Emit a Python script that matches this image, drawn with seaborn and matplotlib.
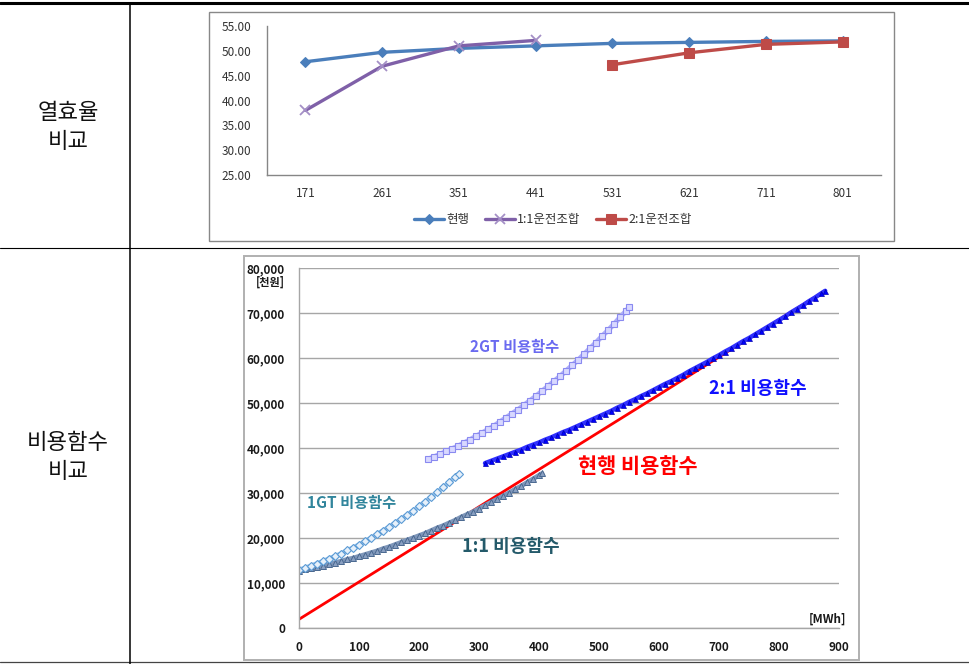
import matplotlib
matplotlib.use("Agg")
import matplotlib.pyplot as plt
from matplotlib.lines import Line2D
from matplotlib.patches import Rectangle
from matplotlib.ticker import FuncFormatter
import seaborn as sns

# ---- 열효율 비교 (상단) ----
load_cats = ["171", "261", "351", "441", "531", "621", "711", "801"]
eff_now = [47.8, 49.7, 50.5, 51.0, 51.5, 51.7, 51.9, 52.0]
eff_11 = [38.0, 46.9, 51.0, 52.1]          # 171 ~ 441
eff_21 = [47.2, 49.6, 51.3, 51.8]          # 531 ~ 801

# ---- 비용함수 비교 (하단): x [MWh], y [천원] ----
now_x = [0, 100, 200, 300, 400, 500, 600, 700, 800, 877]
now_y = [2000, 10300, 18600, 27000, 35300, 43600, 51900, 60300, 68600, 75000]

gt1_x = list(range(0, 261, 10)) + [266]
gt1_y = [13000, 13400, 13900, 14400, 14900, 15500, 16000, 16600, 17300, 17900,
         18600, 19300, 20100, 20900, 21700, 22500, 23400, 24300, 25200, 26100,
         27100, 28100, 29200, 30200, 31300, 32400, 33600, 34300]

c11_x = list(range(0, 401, 10)) + [405]
c11_y = [12800, 13100, 13300, 13600, 13900, 14200, 14600, 14900, 15300, 15600,
         16000, 16400, 16800, 17200, 17700, 18100, 18600, 19100, 19600, 20100,
         20600, 21100, 21700, 22300, 22800, 23400, 24000, 24700, 25300, 25900,
         26600, 27300, 28000, 28700, 29400, 30100, 30900, 31600, 32400, 33200,
         34000, 34400]

gt2_x = list(range(215, 546, 10)) + [550]
gt2_y = [37600, 38100, 38700, 39300, 39900, 40500, 41200, 41900, 42700, 43400,
         44200, 45000, 45900, 46800, 47700, 48600, 49600, 50600, 51600, 52700,
         53800, 54900, 56000, 57200, 58400, 59600, 60900, 62200, 63500, 64900,
         66200, 67600, 69100, 70500, 71300]

c21_x = list(range(310, 871, 10)) + [877]
c21_y = [36700, 37200, 37700, 38200, 38700, 39200, 39700, 40300, 40800, 41300,
         41900, 42400, 43000, 43600, 44100, 44700, 45300, 45900, 46500, 47100,
         47700, 48300, 49000, 49600, 50300, 50900, 51600, 52200, 52900, 53600,
         54300, 54900, 55600, 56300, 57100, 57800, 58500, 59200, 60000, 60700,
         61500, 62200, 63000, 63800, 64500, 65300, 66100, 66900, 67700, 68500,
         69300, 70200, 71000, 71800, 72700, 73500, 74400, 75000]

W, H = 970, 664


def fx(px):
    return px / W


def fy(py):
    return 1 - py / H


sns.set_style("white")
plt.rcParams["font.family"] = ["Noto Sans CJK KR", "DejaVu Sans"]

fig = plt.figure(figsize=(W / 100, H / 100), dpi=100)

# 표 테두리
fig.add_artist(Line2D([0, 1], [fy(3), fy(3)], color="black", lw=2.2))
fig.add_artist(Line2D([0, 1], [fy(248), fy(248)], color="black", lw=0.8))
fig.add_artist(Line2D([0, 1], [fy(662), fy(662)], color="#444444", lw=0.9))
fig.add_artist(Line2D([fx(130.5), fx(130.5)], [fy(3), fy(664)], color="black", lw=1.1))

fig.text(fx(68), fy(127), "열효율\n비교", ha="center", va="center",
         fontsize=16, linespacing=1.35, color="#111111")
fig.text(fx(68), fy(457), "비용함수\n비교", ha="center", va="center",
         fontsize=16, linespacing=1.35, color="#111111")

# 차트 틀
fig.add_artist(Rectangle((fx(209), fy(241)), (894 - 209) / W, (241 - 12) / H,
                         fill=False, edgecolor="#888888", lw=1))
fig.add_artist(Rectangle((fx(244), fy(660)), (859 - 244) / W, (660 - 256) / H,
                         fill=False, edgecolor="#b0b0b0", lw=1.4))

# ---- 상단 차트 ----
ax1 = fig.add_axes([fx(267), fy(175), 614 / W, 149 / H])
idx = list(range(len(load_cats)))
sns.lineplot(x=idx, y=eff_now, ax=ax1, color="#4a7ebb", lw=2.4, marker="D",
             markersize=5.5, markeredgecolor="#4a7ebb", label="현행")
sns.lineplot(x=idx[:4], y=eff_11, ax=ax1, color="#7f60a8", lw=2.4, marker="x",
             markersize=7, markeredgewidth=1.3, markeredgecolor="#a48fc6",
             label="1:1운전조합")
sns.lineplot(x=idx[4:], y=eff_21, ax=ax1, color="#be4b48", lw=2.4, marker="s",
             markersize=6.5, markeredgecolor="#be4b48", label="2:1운전조합")

ax1.set_xlim(-0.5, 7.5)
ax1.set_ylim(25, 55)
ax1.set_yticks([25, 30, 35, 40, 45, 50, 55])
ax1.yaxis.set_major_formatter(FuncFormatter(lambda v, p: f"{v:.2f}"))
ax1.set_xticks(idx)
ax1.set_xticklabels(load_cats)
for s in ["top", "right"]:
    ax1.spines[s].set_visible(False)
for s in ["left", "bottom"]:
    ax1.spines[s].set_color("#868686")
    ax1.spines[s].set_linewidth(1)
ax1.tick_params(axis="y", length=0, pad=11, labelsize=8.5, labelcolor="#333333")
ax1.tick_params(axis="x", length=0, pad=9, labelsize=8.5, labelcolor="#333333")
ax1.set_xlabel("")
ax1.set_ylabel("")

handles, labels = ax1.get_legend_handles_labels()
ax1.legend(handles, labels, loc="center", bbox_to_anchor=(fx(553), fy(220)),
           bbox_transform=fig.transFigure, ncol=3, frameon=False, fontsize=9,
           handlelength=2.4, handletextpad=0.2, columnspacing=1.2,
           labelcolor="#333333")

# ---- 하단 차트 ----
ax2 = fig.add_axes([fx(299), fy(628.3), 540 / W, 360 / H])
sns.lineplot(x=now_x, y=now_y, ax=ax2, color="#ff0000", lw=2.0, legend=False)
sns.lineplot(x=c21_x, y=c21_y, ax=ax2, color="#3030ff", lw=3.2, marker="^",
             markersize=3.6, markerfacecolor="#0000ff", markeredgecolor="#0000b0",
             markeredgewidth=0.5, legend=False)
sns.lineplot(x=c11_x, y=c11_y, ax=ax2, color="#7f97ba", lw=3.4, marker="^",
             markersize=4, markerfacecolor="#8aa0c2", markeredgecolor="#4a6890",
             markeredgewidth=0.7, legend=False)
sns.lineplot(x=gt1_x, y=gt1_y, ax=ax2, color="#9cc5ec", lw=3.4, marker="D",
             markersize=3.8, markerfacecolor="#e6f0fa", markeredgecolor="#5b9bd5",
             markeredgewidth=0.8, legend=False)
sns.lineplot(x=gt2_x, y=gt2_y, ax=ax2, color="#aeaefa", lw=3.6, marker="s",
             markersize=4, markerfacecolor="#d8d8ff", markeredgecolor="#8a8af0",
             markeredgewidth=0.8, legend=False)

ax2.set_xlim(0, 900)
ax2.set_ylim(0, 80000)
ax2.set_xticks(range(0, 901, 100))
ax2.set_yticks(range(0, 80001, 10000))
ax2.yaxis.set_major_formatter(FuncFormatter(lambda v, p: f"{v:,.0f}"))
ax2.yaxis.grid(True, color="#a6a6a6", lw=1)
ax2.xaxis.grid(False)
ax2.set_axisbelow(True)
for s in ["top", "right"]:
    ax2.spines[s].set_visible(False)
for s in ["left", "bottom"]:
    ax2.spines[s].set_color("#a6a6a6")
    ax2.spines[s].set_linewidth(1)
ax2.tick_params(axis="both", direction="out", length=4, width=1, color="#a6a6a6",
                labelsize=8.5, labelcolor="#1a1a1a")
ax2.tick_params(axis="y", pad=6)
ax2.tick_params(axis="x", pad=5)
for lab in ax2.get_xticklabels() + ax2.get_yticklabels():
    lab.set_fontweight("bold")
ax2.set_xlabel("")
ax2.set_ylabel("")

fig.text(fx(270), fy(281.7), "[천원]", ha="center", va="center", fontsize=8,
         fontweight="bold", color="#1a1a1a")
fig.text(fx(846), fy(619), "[MWh]", ha="right", va="center", fontsize=8.5,
         fontweight="bold", color="#1a1a1a")

ax2.text(359, 62600, "2GT 비용함수", ha="center", va="center", fontsize=11,
         fontweight="bold", color="#6a6af0")
ax2.text(88, 27800, "1GT 비용함수", ha="center", va="center", fontsize=11,
         fontweight="bold", color="#31859c")
ax2.text(353, 18100, "1:1 비용함수", ha="center", va="center", fontsize=13,
         fontweight="bold", color="#245a6a")
ax2.text(564, 35900, "현행 비용함수", ha="center", va="center", fontsize=15,
         fontweight="bold", color="#ff0000")
ax2.text(765, 53300, "2:1 비용함수", ha="center", va="center", fontsize=13,
         fontweight="bold", color="#1010ff")

fig.savefig("out.png", dpi=100)
